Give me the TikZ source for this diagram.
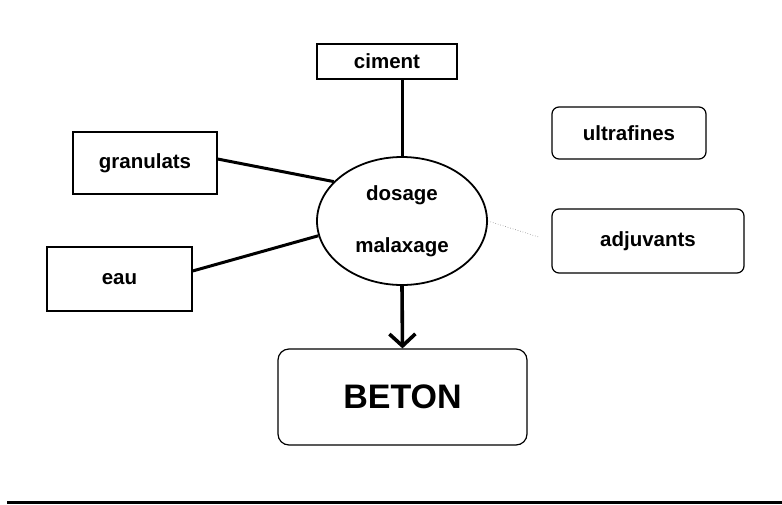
\documentclass[tikz,border=0pt]{standalone}
\usepackage{fontspec}
\setmainfont{Liberation Sans}
\usetikzlibrary{shapes.geometric,arrows.meta}

\begin{document}
\begin{tikzpicture}[x=1pt,y=-1pt,
    boite/.style={draw,line width=1.2pt,inner sep=0pt,font=\fontsize{20.5}{24}\bfseries\selectfont},
    boiteronde/.style={boite,rounded corners=7pt},
    lien/.style={line width=3pt}]
    \useasboundingbox (0,0) rectangle (782,504);
    % Constituants
    \path(387,61.5) node[boite,minimum width=140pt,minimum height=35pt](ciment){ciment};
    \path(145,163) node[boite,minimum width=144pt,minimum height=62pt](gran){granulats};
    \path(119.5,279) node[boite,minimum width=145pt,minimum height=64pt](eau){eau};
    \path(629,133) node[boiteronde,minimum width=154pt,minimum height=52pt](ultra){ultrafines};
    \path(648,241) node[boiteronde,minimum width=192pt,minimum height=64pt](adj){adjuvants};
    % Melange
    \path(402,221) node[draw,ellipse,line width=1.8pt,minimum width=170pt,minimum height=128pt,
        inner sep=0pt,align=center,font=\fontsize{20.5}{52}\bfseries\selectfont](mix){dosage\\malaxage};
    % Produit final
    \path(402.5,397) node[boiteronde,rounded corners=11pt,minimum width=249pt,minimum height=96pt,
        font=\fontsize{34}{40}\bfseries\selectfont](beton){BETON};
    % Liaisons
    \draw[lien](mix.north) -- (mix.north |- ciment.south); % ciment
    \draw[lien]([yshift=4pt]gran.east) -- (mix.150); % granulats
    \draw[lien]([yshift=8pt]eau.east) -- (mix.190); % eau
    \draw[dotted,line width=0.6pt,gray,shorten >=14pt](mix.east) -- (adj.west); % adjuvants
    \draw[line width=3.6pt,-{Straight Barb[length=12pt,width=26pt]}](mix.south) -- (beton.north);
    % Trait du bas
    \fill(7,500.5) rectangle (782,504);
\end{tikzpicture}
\end{document}
